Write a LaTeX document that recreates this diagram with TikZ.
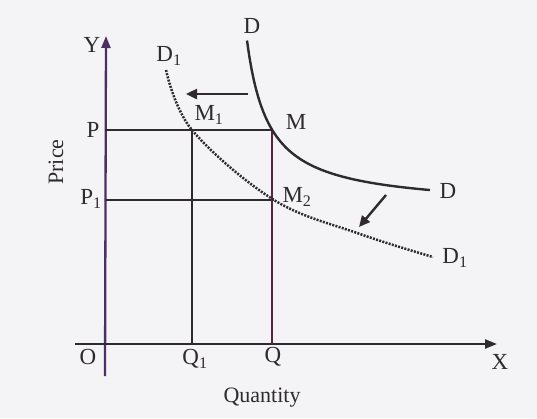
\documentclass[tikz,border=0pt]{standalone}
\usepackage{fontspec}
\setmainfont{Liberation Serif}
\usepackage{tikz}
\usetikzlibrary{arrows.meta, positioning, calc}
\usepackage{xcolor}
\definecolor{paperbg}{HTML}{F4F4F6}
\definecolor{inkdark}{HTML}{2E2A2E}
\definecolor{axispurple}{HTML}{4E2F63}
\definecolor{qmaroon}{HTML}{5A2240}

\tikzset{
    axisline/.style={draw=axispurple, line width=2.3pt, -{Triangle[length=12pt, width=9pt]}},
    guideline/.style={draw=inkdark, line width=2.2pt},
    demandline/.style={draw=inkdark, line width=2.4pt},
    shiftedline/.style={draw=inkdark, line width=2.5pt, dash pattern=on 2pt off 1.3pt},
    shiftarrow/.style={draw=inkdark, line width=2.4pt, -{Triangle[length=11pt, width=10pt]}},
    lbl/.style={inner sep=0pt, font=\fontsize{23}{26}\selectfont, text=inkdark}
}

\begin{document}
\begin{tikzpicture}[x=1pt, y=-1pt]
                % frame and paper
                \fill[paperbg] (0,0) rectangle (537,418);
                \useasboundingbox (0,0) rectangle (537,418);

                % key points
                \coordinate (O) at (105,344);
                \coordinate (Ytop) at (106,36);
                \coordinate (Xend) at (497,344);
                \coordinate (M) at (272,130);
                \coordinate (M1) at (192,130);
                \coordinate (M2) at (274,200);
                \coordinate (Pp) at (105,130);
                \coordinate (P1p) at (105,200);
                \coordinate (Qp) at (272,344);
                \coordinate (Q1p) at (192,344);

                % axes
                \draw[axisline] (105,376) -- (Ytop);
                \draw[axisline, draw=inkdark] (75,344) -- (Xend);

                % price and quantity guides
                \draw[guideline] (Pp) -- (M);
                \draw[guideline] (P1p) -- (M2);
                \draw[guideline] (Q1p) -- (M1);
                \draw[guideline, draw=qmaroon] (Qp) -- (M);

                % demand curves
                \draw[demandline] plot[domain=247:430, samples=80] (\x, {208-3685/(\x-225)});
                \draw[shiftedline] plot[smooth, tension=0.6] coordinates {(166,70) (M1) (M2) (360,234) (433,257)};

                % shift arrows
                \draw[shiftarrow] (248,94) -- (186,94);
                \draw[shiftarrow] (386,195) -- (359,227);

                % labels
                \node[lbl] (ylab) at (92,45) {Y};
                \node[lbl] (xlab) at (500,362) {X};
                \node[lbl] (olab) at (88,357) {O};
                \node[lbl] (plab) at (93,130) {P};
                \node[lbl] (p1lab) at (91,199) {P\textsubscript{1}};
                \node[lbl] (qlab) at (273,357) {Q};
                \node[lbl] (q1lab) at (195,359) {Q\textsubscript{1}};
                \node[lbl] (mlab) at (296,122) {M};
                \node[lbl] (m1lab) at (209,115) {M\textsubscript{1}};
                \node[lbl] (m2lab) at (297,197) {M\textsubscript{2}};
                \node[lbl] (dtop) at (252,26) {D};
                \node[lbl] (dright) at (448,191) {D};
                \node[lbl] (d1top) at (169,56) {D\textsubscript{1}};
                \node[lbl] (d1right) at (455,258) {D\textsubscript{1}};
                \node[lbl, font=\fontsize{22}{24}\selectfont] (qty) at (262,398) {Quantity};
                \node[lbl, font=\fontsize{22}{24}\selectfont, rotate=90] (price) at (56,162) {Price};
            \end{tikzpicture}
\end{document}
